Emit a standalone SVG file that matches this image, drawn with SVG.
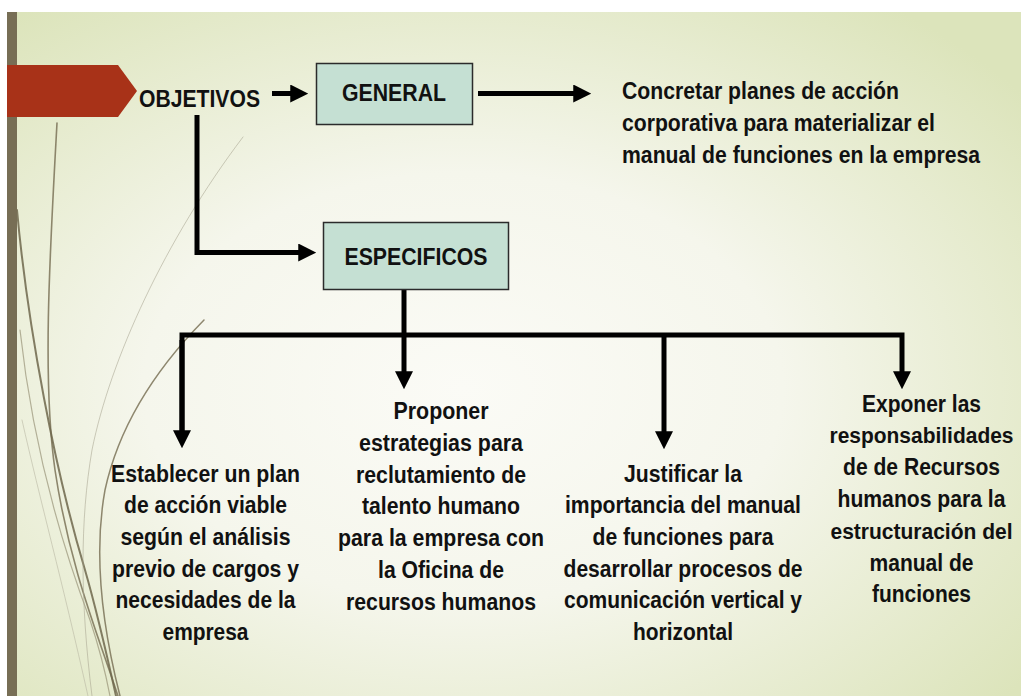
<svg xmlns="http://www.w3.org/2000/svg" width="1021" height="696" viewBox="0 0 1021 696">
  <defs>
    <radialGradient id="bg" cx="0.45" cy="0.55" r="0.7">
      <stop offset="0" stop-color="#fbfbf6"/>
      <stop offset="0.45" stop-color="#f5f6ec"/>
      <stop offset="1" stop-color="#dce4bb"/>
    </radialGradient>
    <marker id="ah" markerUnits="userSpaceOnUse" markerWidth="18" markerHeight="18" viewBox="0 0 16 16" refX="6" refY="8" orient="auto">
      <path d="M0,0 L16,8 L0,16 z" fill="#000"/>
    </marker>
    <style>
      .t { font-family: "Liberation Sans", Arial, sans-serif; font-weight: bold; font-size: 23px; fill: #111; }
      .c { text-anchor: middle; }
      .s { font-size: 21.5px; }
      .box { fill: #c5e0d3; stroke: #2b2b2b; stroke-width: 1.5; }
      .conn { fill: none; stroke: #000; stroke-width: 5; stroke-linejoin: miter; }
      .wisp { fill: none; stroke-linecap: round; }
    </style>
  </defs>

  <!-- background -->
  <rect x="0" y="0" width="1021" height="696" fill="#ffffff"/>
  <rect x="7" y="12" width="1014" height="684" fill="url(#bg)"/>

  <!-- decorative wisps -->
  <g id="wisps">
    <path class="wisp" d="M57,123 C50,250 42,380 55,470 C70,570 100,640 118,696" stroke="#7b7358" stroke-width="1.6" opacity="0.85"/>
    <path class="wisp" d="M17,210 C28,330 55,470 85,570 C98,615 108,660 116,696" stroke="#6f674c" stroke-width="2" opacity="0.85"/>
    <path class="wisp" d="M20,330 C32,440 60,540 90,620 C100,650 106,675 110,696" stroke="#8a8468" stroke-width="1.2" opacity="0.6"/>
    <path class="wisp" d="M243,137 C165,240 110,360 92,450 C80,520 80,600 92,696" stroke="#a6a28e" stroke-width="1" opacity="0.55"/>
    <path class="wisp" d="M204,320 C150,375 118,430 105,490 C95,545 98,610 120,696" stroke="#7b7358" stroke-width="1.5" opacity="0.85"/>
    <path class="wisp" d="M22,420 C40,500 62,580 88,696" stroke="#b9b7a4" stroke-width="1" opacity="0.6"/>
  </g>

  <!-- left bar and banner -->
  <rect x="7" y="12" width="10" height="684" fill="#776e55"/>
  <polygon points="7,65 118,65 137,91 118,117 7,117" fill="#a83218"/>

  <!-- connectors -->
  <g id="connectors">
    <path class="conn" d="M272,93.5 H297" marker-end="url(#ah)"/>
    <path class="conn" d="M478,93.5 H580" marker-end="url(#ah)"/>
    <path class="conn" d="M197,115 V252.5 H305" marker-end="url(#ah)"/>
    <path class="conn" d="M404,290 V378" marker-end="url(#ah)"/>
    <path class="conn" d="M182,437 V335 H902 V378" marker-end="url(#ah)"/>
    <path class="conn" d="M182,340 V437" marker-end="url(#ah)"/>
    <path class="conn" d="M664,335 V438" marker-end="url(#ah)"/>
  </g>

  <g id="objetivos">
    <text class="t" x="139" y="106.5" textLength="121" lengthAdjust="spacingAndGlyphs">OBJETIVOS</text>
  </g>

  <g id="general">
    <rect class="box" x="316.5" y="63.5" width="156" height="61"/>
    <text class="t c" x="394" y="101" textLength="104" lengthAdjust="spacingAndGlyphs">GENERAL</text>
  </g>

  <g id="especificos">
    <rect class="box" x="323.5" y="222.5" width="185" height="67"/>
    <text class="t c" x="416" y="264.5" textLength="143" lengthAdjust="spacingAndGlyphs">ESPECIFICOS</text>
  </g>

  <g id="general-text">
    <text class="t" x="622" y="99" textLength="277" lengthAdjust="spacingAndGlyphs">Concretar planes de acción</text>
    <text class="t" x="622" y="131" textLength="313" lengthAdjust="spacingAndGlyphs">corporativa para materializar el</text>
    <text class="t" x="622" y="163" textLength="358" lengthAdjust="spacingAndGlyphs">manual de funciones en la empresa</text>
  </g>

  <g id="obj1">
    <text class="t c" x="205.5" y="481.5" textLength="189" lengthAdjust="spacingAndGlyphs">Establecer un plan</text>
    <text class="t c" x="205.5" y="513.2" textLength="163" lengthAdjust="spacingAndGlyphs">de acción viable</text>
    <text class="t c" x="205.5" y="545" textLength="170" lengthAdjust="spacingAndGlyphs">según el análisis</text>
    <text class="t c" x="205.5" y="576.7" textLength="187" lengthAdjust="spacingAndGlyphs">previo de cargos y</text>
    <text class="t c" x="205.5" y="608.4" textLength="180" lengthAdjust="spacingAndGlyphs">necesidades de la</text>
    <text class="t c" x="205.5" y="640" textLength="86" lengthAdjust="spacingAndGlyphs">empresa</text>
  </g>

  <g id="obj2">
    <text class="t c" x="441" y="419.3" textLength="95" lengthAdjust="spacingAndGlyphs">Proponer</text>
    <text class="t c" x="441" y="451" textLength="164" lengthAdjust="spacingAndGlyphs">estrategias para</text>
    <text class="t c" x="441" y="482.7" textLength="170" lengthAdjust="spacingAndGlyphs">reclutamiento de</text>
    <text class="t c" x="441" y="514.4" textLength="158" lengthAdjust="spacingAndGlyphs">talento humano</text>
    <text class="t c" x="441" y="546.1" textLength="206" lengthAdjust="spacingAndGlyphs">para la empresa con</text>
    <text class="t c" x="441" y="577.8" textLength="126" lengthAdjust="spacingAndGlyphs">la Oficina de</text>
    <text class="t c" x="441" y="609.5" textLength="190" lengthAdjust="spacingAndGlyphs">recursos humanos</text>
  </g>

  <g id="obj3">
    <text class="t c" x="683" y="481.5" textLength="118" lengthAdjust="spacingAndGlyphs">Justificar la</text>
    <text class="t c" x="683" y="513.2" textLength="236" lengthAdjust="spacingAndGlyphs">importancia del manual</text>
    <text class="t c" x="683" y="545" textLength="181" lengthAdjust="spacingAndGlyphs">de funciones para</text>
    <text class="t c" x="683" y="576.7" textLength="239" lengthAdjust="spacingAndGlyphs">desarrollar procesos de</text>
    <text class="t c" x="683" y="608.4" textLength="238" lengthAdjust="spacingAndGlyphs">comunicación vertical y</text>
    <text class="t c" x="683" y="640" textLength="100" lengthAdjust="spacingAndGlyphs">horizontal</text>
  </g>

  <g id="obj4">
    <text class="t c" x="921.5" y="411.5" textLength="119" lengthAdjust="spacingAndGlyphs">Exponer las</text>
    <text class="t c s" x="921.5" y="443.3" textLength="184" lengthAdjust="spacingAndGlyphs">responsabilidades</text>
    <text class="t c" x="921.5" y="475.1" textLength="157" lengthAdjust="spacingAndGlyphs">de de Recursos</text>
    <text class="t c" x="921.5" y="506.9" textLength="168" lengthAdjust="spacingAndGlyphs">humanos para la</text>
    <text class="t c s" x="921.5" y="538.7" textLength="182" lengthAdjust="spacingAndGlyphs">estructuración del</text>
    <text class="t c" x="921.5" y="570.5" textLength="104" lengthAdjust="spacingAndGlyphs">manual de</text>
    <text class="t c" x="921.5" y="602.3" textLength="99" lengthAdjust="spacingAndGlyphs">funciones</text>
  </g>
</svg>
